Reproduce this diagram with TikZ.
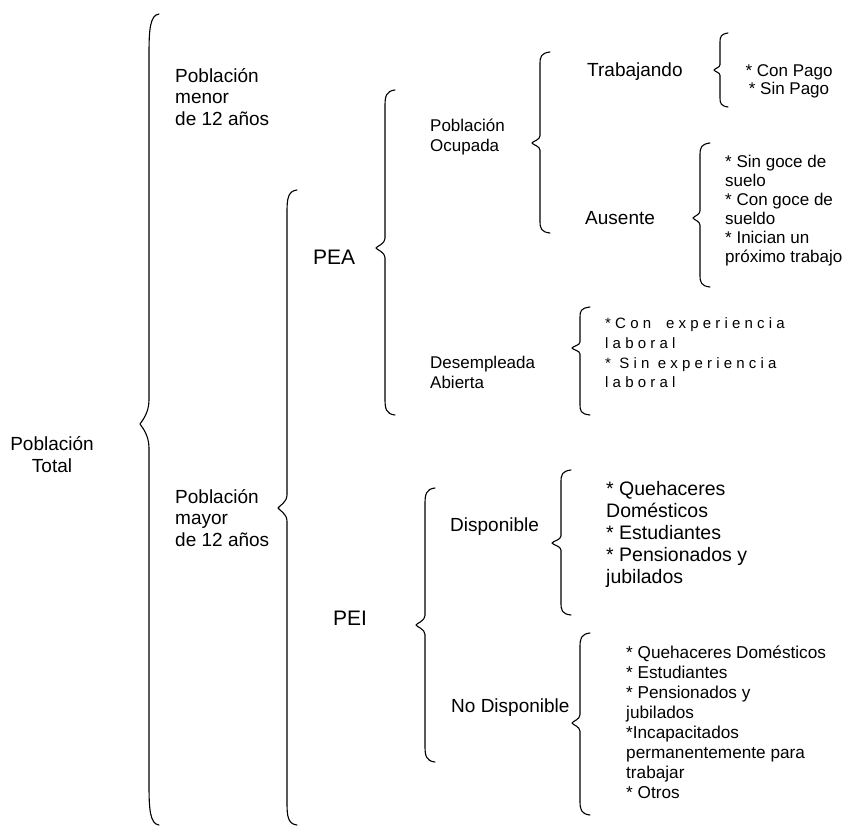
\documentclass[tikz,border=0pt]{standalone}
\usepackage{fontspec}
\setmainfont{Liberation Sans}
\newfontfamily\spacedfont[LetterSpace=28]{Liberation Sans}
\newcommand\fsz[2]{\fontsize{#1}{#2}\selectfont}
% #1 line x, #2 top y, #3 tip x, #4 tip y, #5 bottom y, #6 hook x, #7 hook length
\newcommand\mybrace[7]{%
  \draw[bracestyle] (#6,#2) .. controls (#1+1,#2+1) and (#1,#2+#7*0.4) .. (#1,#2+#7)
    -- (#1,#4-#7*0.6) .. controls (#1,#4-#7*0.25) and (#3+1,#4-2) .. (#3,#4)
    .. controls (#3+1,#4+2) and (#1,#4+#7*0.25) .. (#1,#4+#7*0.6)
    -- (#1,#5-#7) .. controls (#1,#5-#7*0.4) and (#1+1,#5-1) .. (#6,#5);}
\tikzset{
  bracestyle/.style={line width=1.1pt, line cap=round, line join=round},
  lbl/.style={inner sep=0pt, anchor=west, align=left},
}
\begin{document}
\begin{tikzpicture}[x=1pt,y=-1pt]
\useasboundingbox (0,0) rectangle (846,830);
% braces
\mybrace{149}{14}{140}{424}{825}{159}{40}
\mybrace{287}{190}{278}{508}{825}{297}{22}
\mybrace{385}{90}{376}{248}{415}{395}{16}
\mybrace{540}{52}{532}{143}{233}{550}{12}
\mybrace{720}{33}{714}{70}{107}{728}{9}
\mybrace{700}{143}{693}{218}{287}{710}{12}
\mybrace{580}{307}{572}{348}{415}{590}{10}
\mybrace{425}{488}{416}{625}{762}{435}{16}
\mybrace{561}{470}{552}{543}{615}{571}{12}
\mybrace{580}{633}{572}{723}{815}{590}{14}
% texts
\node[inner sep=0pt, align=center, font=\fsz{19}{22}] (total) at (52,455) {Población\\Total};
\node[lbl, font=\fsz{19}{21.5}] (menor) at (175,97) {Población\\menor\\de 12 años};
\node[lbl, font=\fsz{19}{21.5}] (mayor) at (175,518) {Población\\mayor\\de 12 años};
\node[lbl, font=\fsz{21}{24}] (pea) at (313,257) {PEA};
\node[lbl, font=\fsz{21}{24}] (pei) at (333,618) {PEI};
\node[lbl, font=\fsz{17}{20}] (ocup) at (430,137) {Población\\Ocupada};
\node[lbl, font=\fsz{17}{20}] (desemp) at (430,372) {Desempleada\\Abierta};
\node[lbl, font=\fsz{19}{22}] (trab) at (587,72) {Trabajando};
\node[lbl, font=\fsz{19}{22}] (aus) at (585,218) {Ausente};
\node[inner sep=0pt, align=center, font=\fsz{17}{18}] (pago) at (789,81) {* Con Pago\\* Sin Pago};
\node[lbl, font=\fsz{17}{19}] (auslist) at (725,210.5) {* Sin goce de\\suelo\\* Con goce de\\sueldo\\* Inician un\\próximo trabajo};
\node[lbl, font=\spacedfont\fsz{15}{19.7}] (desemplist) at (605,353) {*Con\hspace{6.5pt} experiencia\\laboral\\* Sin experiencia\\laboral};
\node[lbl, font=\fsz{19}{22}] (disp) at (450,527) {Disponible};
\node[lbl, font=\fsz{19.5}{22.2}] (displist) at (606,534.5) {* Quehaceres\\Domésticos\\* Estudiantes\\* Pensionados y\\jubilados};
\node[lbl, font=\fsz{19}{22}] (nodisp) at (451,708) {No Disponible};
\node[lbl, font=\fsz{17.2}{20}] (nodisplist) at (626,722) {* Quehaceres Domésticos\\* Estudiantes\\* Pensionados y\\jubilados\\*Incapacitados\\permanentemente para\\trabajar\\* Otros};
\end{tikzpicture}
\end{document}
